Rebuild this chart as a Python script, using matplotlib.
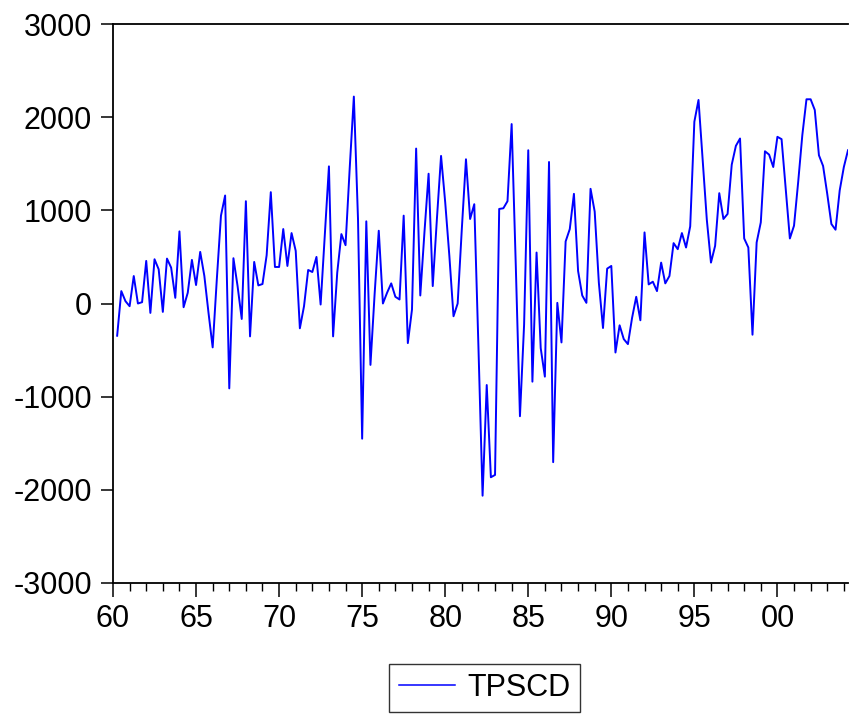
import matplotlib
matplotlib.use("Agg")
import matplotlib.pyplot as plt
import matplotlib.ticker as mticker
import numpy as np
import pandas as pd

# ---- data (quarterly, 1960Q2 - 2004Q2) ----
series_name = "TPSCD"
start_quarter = "1960Q2"
end_quarter = "2004Q2"
tpscd = [
    -346, 133, 25, -29, 295, 0, 14, 457, -101, 475,
    367, -90, 482, 385, 61, 774, -40, 115, 468, 198,
    554, 295, -100, -471, 259, 943, 1159, -911, 486, 187,
    -166, 1098, -353, 446, 194, 209, 518, 1195, 392, 392,
    799, 403, 756, 565, -266, -29, 360, 338, 500, -11,
    727, 1472, -353, 331, 745, 626, 1450, 2221, 907, -1451,
    882, -659, 100, 781, 0, 115, 216, 72, 43, 943,
    -425, -65, 1663, 86, 763, 1393, 187, 907, 1584, 1087,
    511, -137, 0, 799, 1548, 907, 1066, -461, -2063, -875,
    -1865, -1840, 1015, 1022, 1098, 1926, 403, -1210, -227, 1645,
    -839, 547, -479, -785, 1519, -1703, 7, -418, 666, 799,
    1177, 349, 86, 7, 1231, 986, 223, -263, 374, 403,
    -526, -234, -382, -436, -155, 72, -180, 763, 205, 234,
    133, 439, 216, 295, 648, 583, 756, 601, 828, 1951,
    2185, 1550, 900, 439, 619, 1184, 907, 961, 1490, 1692,
    1771, 698, 601, -335, 655, 871, 1634, 1598, 1465, 1789,
    1764, 1231, 698, 835, 1303, 1807, 2192, 2192, 2077, 1591,
    1476, 1177, 853, 792, 1213, 1465, 1645,
]
y_ticks = [3000, 2000, 1000, 0, -1000, -2000, -3000]
x_major_years = [1960, 1965, 1970, 1975, 1980, 1985, 1990, 1995, 2000]
x_tick_labels = ["60", "65", "70", "75", "80", "85", "90", "95", "00"]

periods = pd.period_range(start_quarter, end_quarter, freq="Q")
x = np.array([p.year + (p.quarter - 1) / 4.0 for p in periods])
y = np.array(tpscd[: len(x)])

# ---- figure ----
W, H = 849, 715
DPI = 100
plt.rcParams["font.family"] = ["Liberation Sans", "DejaVu Sans"]
fig = plt.figure(figsize=(W / DPI, H / DPI), dpi=DPI)
left, right, top, bottom = 113, 848, 24, 583
ax = fig.add_axes([left / W, 1 - bottom / H, (right - left) / W, (bottom - top) / H])

line, = ax.plot(x, y, color="#0000ff", lw=1.4, label=series_name)

ax.set_xlim(1960.0, 2004.25)
ax.set_ylim(-3000, 3000)

ax.set_yticks(y_ticks)
ax.set_yticklabels([str(v) for v in y_ticks])
ax.set_xticks(x_major_years)
ax.set_xticklabels(x_tick_labels)
ax.xaxis.set_minor_locator(mticker.FixedLocator(np.arange(1961, 2005, 1)))

for s in ["left", "bottom", "top"]:
    ax.spines[s].set_linewidth(1.3)
    ax.spines[s].set_color("black")
ax.spines["right"].set_visible(False)

ax.tick_params(axis="y", which="major", direction="out", length=9, width=1.1,
               labelsize=22, pad=6, right=False)
ax.tick_params(axis="x", which="major", direction="out", length=10, width=1.1,
               labelsize=22, pad=5, top=False)
ax.tick_params(axis="x", which="minor", direction="out", length=5.5, width=1.0, top=False)

leg = fig.legend(handles=[line], loc="center",
                 bbox_to_anchor=(484.5 / W, 1 - 688 / H),
                 fontsize=22, frameon=True, fancybox=False,
                 handlelength=1.85, handletextpad=0.4, borderpad=0.3,
                 borderaxespad=0)
leg.get_frame().set_edgecolor("black")
leg.get_frame().set_linewidth(1.0)
for lh in leg.get_lines():
    lh.set_linewidth(1.1)

fig.savefig("out.png", dpi=DPI)
